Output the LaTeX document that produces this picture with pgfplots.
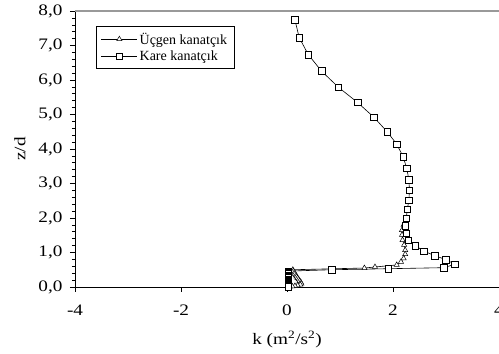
\documentclass[border=0pt]{standalone}
\usepackage{fontspec}
\setmainfont{Liberation Serif}
\newfontfamily\stretchfont{Liberation Serif}[FakeStretch=1.2]
\usepackage{pgfplots}
\pgfplotsset{compat=1.18}

\begin{document}
\begin{tikzpicture}
\begin{axis}[
  scale only axis, width=424pt, height=276pt,
  xmin=-4, xmax=4, ymin=0, ymax=8,
  clip=false,
  axis x line*=bottom, axis y line*=left,
  axis line style={black, line width=0.8pt, -},
  xtick={-4,-2,0,2,4},
  ytick={0,1,2,3,4,5,6,7,8},
  minor y tick num=4,
  tick align=outside,
  major tick length=5pt, minor tick length=3pt,
  tick style={black, line width=0.6pt},
  /pgf/number format/assume math mode=true,
  yticklabel style={/pgf/number format/.cd, fixed, fixed zerofill, precision=1, use comma, /tikz/.cd, xshift=-4pt},
  xticklabel style={/pgf/number format/.cd, fixed, precision=0, /tikz/.cd, yshift=-9pt},
  ticklabel style={font=\stretchfont\fontsize{16}{18}\selectfont},
  xlabel={k (m\textsuperscript{2}/s\textsuperscript{2})},
  ylabel={z/d},
  label style={font=\stretchfont\fontsize{16}{18}\selectfont},
  xlabel style={at={(axis description cs:0.5,-0.19)}, anchor=center},
  ylabel style={at={(axis description cs:-0.13,0.5)}, anchor=center},
  legend style={at={(rel axis cs:0.049,0.944)}, anchor=north west, draw=black, line width=0.6pt,
    font=\fontsize{14}{17}\selectfont, inner xsep=5pt, inner ysep=4pt, row sep=1pt,
    cells={anchor=west, inner xsep=4pt}},
  legend image code/.code={\draw[mark repeat=2,mark phase=2,#1] plot coordinates {(0pt,0pt)(18pt,0pt)(36pt,0pt)};},
  every axis plot/.append style={black, line width=0.6pt},
]
\addplot[mark=triangle*, mark size=3pt, mark options={fill=white, solid, line width=0.5pt}] coordinates {
(2.25,1.99) (2.20,1.80) (2.17,1.65) (2.17,1.51) (2.18,1.36) (2.21,1.22) (2.23,1.07) (2.23,0.95)
(2.20,0.83) (2.15,0.73) (2.07,0.64) (1.66,0.58) (1.46,0.55) (0.11,0.50)
(0.12,0.46) (0.14,0.42) (0.15,0.38) (0.17,0.34) (0.18,0.30) (0.20,0.26) (0.22,0.22) (0.24,0.18)
(0.26,0.14) (0.27,0.10) (0.25,0.07) (0.20,0.05) (0.15,0.03) (0.10,0.02) (0.05,0.01) (0.02,0.005)
};
\addlegendentry{Üçgen kanatçık}
\addplot[mark=square*, mark size=3.3pt, mark options={fill=white, solid, line width=0.5pt}] coordinates {
(0.15,7.74) (0.23,7.23) (0.40,6.74) (0.65,6.26) (0.97,5.79) (1.33,5.35) (1.64,4.92) (1.89,4.50)
(2.07,4.14) (2.19,3.78) (2.26,3.44) (2.30,3.10) (2.31,2.81) (2.30,2.52) (2.27,2.25) (2.25,1.99)
(2.23,1.77) (2.25,1.56) (2.29,1.35) (2.42,1.20) (2.58,1.04) (2.79,0.91) (3.00,0.79) (3.17,0.66)
(2.96,0.56) (1.91,0.53) (0.84,0.50)
(0.02,0.46) (0.02,0.42) (0.02,0.38) (0.02,0.34) (0.02,0.30) (0.02,0.26) (0.02,0.22) (0.02,0.18)
(0.02,0.15) (0.02,0.12) (0.02,0.10) (0.02,0.08) (0.02,0.065) (0.02,0.05) (0.02,0.04) (0.02,0.03)
(0.02,0.02) (0.02,0.015) (0.02,0.01) (0.02,0.005)
};
\addlegendentry{Kare kanatçık}
\draw[gray!80, line width=1.5pt] (rel axis cs:0,1) -- (rel axis cs:1,1);
\end{axis}
\pgfresetboundingbox
\path ([shift={(-75pt,-67pt)}]current axis.south west) rectangle ([shift={(0pt,11pt)}]current axis.north east);
\end{tikzpicture}
\end{document}
